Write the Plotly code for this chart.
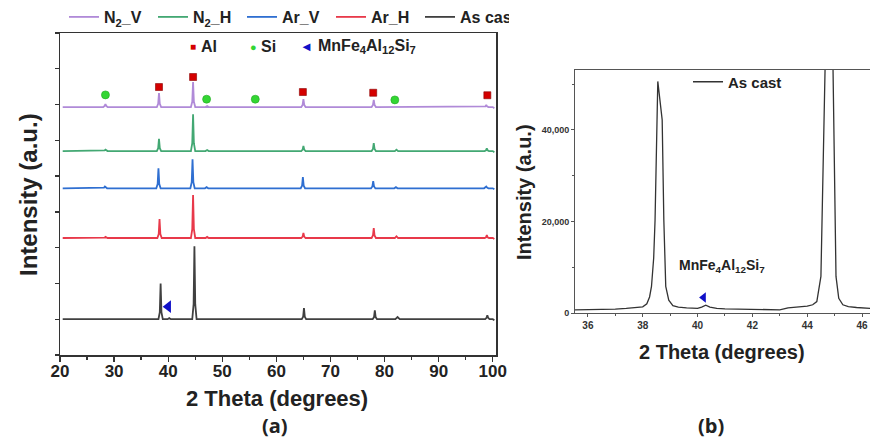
import plotly.graph_objects as go

# ---------------- data: panel (a) stacked XRD patterns ----------------
series_names = ["N<sub>2</sub>_V", "N<sub>2</sub>_H", "Ar_V", "Ar_H", "As cast"]
series_colors = ["#b08ad8", "#43a873", "#2f6fd1", "#e8394a", "#404040"]
offsets = [6.93, 5.70, 4.66, 3.27, 1.0]

n2v_x = [20.5, 28.0, 28.25, 28.4, 28.55, 28.8, 37.9, 38.15, 38.3, 38.45, 38.7,
         44.2, 44.45, 44.6, 44.75, 45.0, 46.9, 47.2, 47.5, 64.6, 64.85, 65.0, 65.15, 65.4,
         77.6, 77.85, 78.0, 78.15, 78.4, 81.9, 82.2, 82.5, 98.4, 98.65, 98.8, 98.95, 99.2,
         100.0, 100.3]
n2v_y = [0.0, 0.0, 0.03, 0.08, 0.03, 0.0, 0.0, 0.09, 0.39, 0.09, 0.0,
         0.0, 0.15, 0.70, 0.15, 0.0, 0.0, 0.03, 0.0, 0.0, 0.06, 0.22, 0.06, 0.0,
         0.0, 0.06, 0.20, 0.06, 0.0, 0.0, 0.02, 0.0, 0.0, 0.02, 0.06, 0.02, 0.0,
         0.0, -0.03]

n2h_x = [20.5, 28.0, 28.25, 28.4, 28.55, 28.8, 37.9, 38.15, 38.3, 38.45, 38.7,
         44.2, 44.45, 44.6, 44.75, 45.0, 46.9, 47.2, 47.5, 64.6, 64.85, 65.0, 65.15, 65.4,
         77.6, 77.85, 78.0, 78.15, 78.4, 81.9, 82.2, 82.5, 98.5, 98.75, 98.9, 99.05, 99.3,
         100.0, 100.3]
n2h_y = [0.0, 0.0, 0.02, 0.04, 0.02, 0.0, 0.0, 0.08, 0.34, 0.08, 0.0,
         0.0, 0.22, 1.03, 0.22, 0.0, 0.0, 0.03, 0.0, 0.0, 0.04, 0.14, 0.04, 0.0,
         0.0, 0.06, 0.22, 0.06, 0.0, 0.0, 0.04, 0.0, 0.0, 0.02, 0.08, 0.02, 0.0,
         0.0, -0.03]

arv_x = [20.5, 27.9, 28.15, 28.3, 28.45, 28.7, 37.8, 38.05, 38.2, 38.35, 38.6,
         44.1, 44.35, 44.5, 44.65, 44.9, 46.8, 47.1, 47.4, 64.5, 64.75, 64.9, 65.05, 65.3,
         77.5, 77.75, 77.9, 78.05, 78.3, 81.8, 82.1, 82.4, 98.4, 98.65, 98.8, 98.95, 99.2,
         100.0, 100.3]
arv_y = [0.0, 0.0, 0.02, 0.05, 0.02, 0.0, 0.0, 0.12, 0.56, 0.12, 0.0,
         0.0, 0.17, 0.81, 0.17, 0.0, 0.0, 0.03, 0.0, 0.0, 0.07, 0.31, 0.07, 0.0,
         0.0, 0.05, 0.20, 0.05, 0.0, 0.0, 0.03, 0.0, 0.0, 0.02, 0.05, 0.02, 0.0,
         0.0, -0.03]

arh_x = [20.5, 28.0, 28.25, 28.4, 28.55, 28.8, 38.0, 38.25, 38.4, 38.55, 38.8,
         44.2, 44.45, 44.6, 44.75, 45.0, 46.9, 47.2, 47.5, 64.6, 64.85, 65.0, 65.15, 65.4,
         77.6, 77.85, 78.0, 78.15, 78.4, 81.9, 82.2, 82.5, 98.5, 98.75, 98.9, 99.05, 99.3,
         100.0, 100.3]
arh_y = [0.0, 0.0, 0.01, 0.03, 0.01, 0.0, 0.0, 0.11, 0.53, 0.11, 0.0,
         0.0, 0.25, 1.20, 0.25, 0.0, 0.0, 0.03, 0.0, 0.0, 0.04, 0.14, 0.04, 0.0,
         0.0, 0.07, 0.28, 0.07, 0.0, 0.0, 0.05, 0.0, 0.0, 0.02, 0.08, 0.02, 0.0,
         0.0, -0.03]

cast_x = [20.5, 28.0, 28.4, 28.8, 38.2, 38.45, 38.6, 38.75, 39.0, 39.9, 40.2, 40.5,
          44.45, 44.7, 44.85, 45.0, 45.25, 64.7, 64.95, 65.1, 65.25, 65.5,
          77.8, 78.05, 78.2, 78.35, 78.6, 82.0, 82.4, 82.8, 98.6, 98.85, 99.0, 99.15, 99.4,
          100.0, 100.3]
cast_y = [0.0, 0.0, 0.01, 0.0, 0.0, 0.2, 1.00, 0.2, 0.0, 0.0, 0.03, 0.0,
          0.0, 0.42, 2.04, 0.42, 0.0, 0.0, 0.07, 0.31, 0.07, 0.0,
          0.0, 0.06, 0.25, 0.06, 0.0, 0.0, 0.06, 0.0, 0.0, 0.04, 0.11, 0.04, 0.0,
          0.0, -0.03]

series_x = [n2v_x, n2h_x, arv_x, arh_x, cast_x]
series_y = [n2v_y, n2h_y, arv_y, arh_y, cast_y]

# phase identification markers (panel a)
al_x = [38.3, 44.6, 64.9, 77.9, 99.0]
al_y = [7.49, 7.77, 7.35, 7.33, 7.26]
si_x = [28.4, 47.1, 56.1, 81.9]
si_y = [7.27, 7.15, 7.15, 7.13]
mn_x_a = [40.0]
mn_y_a = [1.35]

a_xticks = [20, 30, 40, 50, 60, 70, 80, 90, 100]

# ---------------- data: panel (b) zoom of As cast ----------------
b_x = [35.5, 36.0, 36.5, 37.0, 37.4, 37.8, 38.0, 38.15, 38.25, 38.32, 38.4, 38.45,
       38.55, 38.71, 38.77, 38.84, 38.95, 39.1, 39.3, 39.6, 40.0, 40.15, 40.3, 40.45,
       40.7, 41.0, 41.5, 42.0, 42.5, 43.0, 43.3, 43.7, 44.0, 44.2, 44.35, 44.5, 44.82,
       45.05, 45.15, 45.3, 45.5, 45.8, 46.0, 46.3]
b_y = [700, 700, 720, 850, 1000, 1200, 1350, 2000, 3500, 5800, 12000, 20300,
       50600, 42200, 20300, 5800, 2800, 1600, 1300, 1100, 1000, 1300, 1700, 1300,
       1000, 900, 850, 900, 800, 700, 1100, 1300, 1500, 1800, 2500, 8000, 104000,
       8000, 3200, 1800, 1400, 1200, 1100, 1000]
mn_x_b = [40.22]
mn_y_b = [3400]
b_xticks = [36, 38, 40, 42, 44, 46]
b_yticks = [0, 20000, 40000]
b_yticktext = ["0", "20,000", "40,000"]

W, H = 870, 441
FONT = "Liberation Sans, Arial, sans-serif"


def px(x):
    return x / W


def py(y):
    return 1 - y / H


fig = go.Figure()

for name, color, off, xs, ys in zip(series_names, series_colors, offsets, series_x, series_y):
    fig.add_trace(go.Scatter(
        x=xs, y=[off + v for v in ys], mode="lines", name=name,
        line=dict(color=color, width=1.8), xaxis="x", yaxis="y",
        legend="legend", showlegend=True))

fig.add_trace(go.Scatter(x=al_x, y=al_y, mode="markers", showlegend=False,
                         marker=dict(symbol="square", size=7, color="#d40000",
                                     line=dict(color="#8a0000", width=0.6)),
                         xaxis="x", yaxis="y"))
fig.add_trace(go.Scatter(x=si_x, y=si_y, mode="markers", showlegend=False,
                         marker=dict(symbol="circle", size=8, color="#33d633",
                                     line=dict(color="#22aa22", width=0.6)),
                         xaxis="x", yaxis="y"))
fig.add_trace(go.Scatter(x=mn_x_a, y=mn_y_a, mode="markers", showlegend=False,
                         marker=dict(symbol="triangle-left", size=11, color="#1010c8"),
                         xaxis="x", yaxis="y"))

# panel b
fig.add_trace(go.Scatter(x=b_x, y=b_y, mode="lines", name="As cast",
                         line=dict(color="#333333", width=1.3),
                         xaxis="x2", yaxis="y2", legend="legend2", showlegend=True))
fig.add_trace(go.Scatter(x=mn_x_b, y=mn_y_b, mode="markers", showlegend=False,
                         marker=dict(symbol="triangle-left", size=9, color="#1010c8"),
                         xaxis="x2", yaxis="y2"))

axis_common = dict(showgrid=False, zeroline=False, showline=True, ticks="outside",
                   automargin=False)

fig.update_layout(
    width=W, height=H, autosize=False,
    margin=dict(l=0, r=0, t=0, b=0, autoexpand=False),
    paper_bgcolor="white", plot_bgcolor="white",
    font=dict(family=FONT, color="#222222"),
    hovermode=False,
    xaxis=dict(domain=[px(60), px(496)], range=[20, 100.6], anchor="y",
               tickvals=a_xticks, ticklen=5, tickwidth=1.3, linecolor="#333333",
               linewidth=1.5, mirror=True, tickcolor="#333333", ticklabelstandoff=-5,
               tickfont=dict(size=17, family=FONT, weight="bold", color="#222222"),
               minor=dict(dtick=5, ticks="outside", ticklen=3, tickcolor="#333333"),
               **axis_common),
    yaxis=dict(domain=[py(355), py(33)], range=[0, 9], anchor="x",
               tickvals=list(range(0, 10)), showticklabels=False, ticklen=4,
               tickwidth=1.3, linecolor="#333333", linewidth=1.5, mirror=True,
               tickcolor="#333333", **axis_common),
    xaxis2=dict(domain=[px(575), 1.0], range=[35.53, 46.29], anchor="y2",
                tickvals=b_xticks, ticklen=3, tickwidth=1, linecolor="#555555",
                linewidth=1, mirror=True, tickcolor="#555555",
                tickfont=dict(size=10, family=FONT, weight="bold", color="#333333"),
                minor=dict(dtick=1, ticks="outside", ticklen=2, tickcolor="#555555"),
                **axis_common),
    yaxis2=dict(domain=[py(313), py(70)], range=[0, 53100], anchor="x2",
                tickvals=b_yticks, ticktext=b_yticktext, ticklen=3, tickwidth=1,
                linecolor="#555555", linewidth=1, mirror=False, tickcolor="#555555",
                tickfont=dict(size=9, family=FONT, weight="bold", color="#333333"),
                minor=dict(dtick=10000, ticks="outside", ticklen=2, tickcolor="#555555"),
                **axis_common),
    legend=dict(orientation="h", x=px(64), y=1.0, xanchor="left", yanchor="top",
                font=dict(size=16, family=FONT, weight="bold", color="#222222"),
                bgcolor="rgba(0,0,0,0)", entrywidthmode="pixels", entrywidth=44),
    legend2=dict(x=px(688), y=py(82), xanchor="left", yanchor="middle",
                 font=dict(size=15, family=FONT, weight="bold", color="#222222"),
                 bgcolor="rgba(0,0,0,0)"),
)

ann = []


def add_text(text, x, y, size, anchor="center", angle=0, color="#222222", bold=True, family=FONT):
    ann.append(dict(text=text, x=px(x), y=py(y), xref="paper", yref="paper",
                    xanchor=anchor, yanchor="middle", showarrow=False, textangle=angle,
                    font=dict(size=size, family=family, color=color,
                              weight="bold" if bold else "normal")))


# marker key inside panel a
add_text("■", 193, 47, 10, color="#d40000")
add_text("Al", 199, 47, 16, anchor="left")
add_text("●", 253, 47, 11, color="#33d633")
add_text("Si", 259, 47, 16, anchor="left")
add_text("◄", 306, 47, 13, color="#1010c8")
add_text("MnFe<sub>4</sub>Al<sub>12</sub>Si<sub>7</sub>", 316, 47, 16, anchor="left")

# axis titles
add_text("Intensity (a.u.)", 28, 195, 24, angle=-90)
add_text("2 Theta (degrees)", 277, 398, 22)
add_text("Intensity (a.u.)", 524, 192, 20, angle=-90)
add_text("2 Theta (degrees)", 722, 352, 20)
add_text("MnFe<sub>4</sub>Al<sub>12</sub>Si<sub>7</sub>", 722, 266, 14)

# panel labels
add_text("(a)", 275, 425, 20, family="Open Sans, sans-serif")
add_text("(b)", 711, 425, 20, family="Open Sans, sans-serif")

fig.update_layout(annotations=ann)

fig.write_html(
    "out.html",
    config={"displayModeBar": False, "staticPlot": True},
    post_script="document.body.style.margin='0';document.body.style.overflow='hidden';",
)
